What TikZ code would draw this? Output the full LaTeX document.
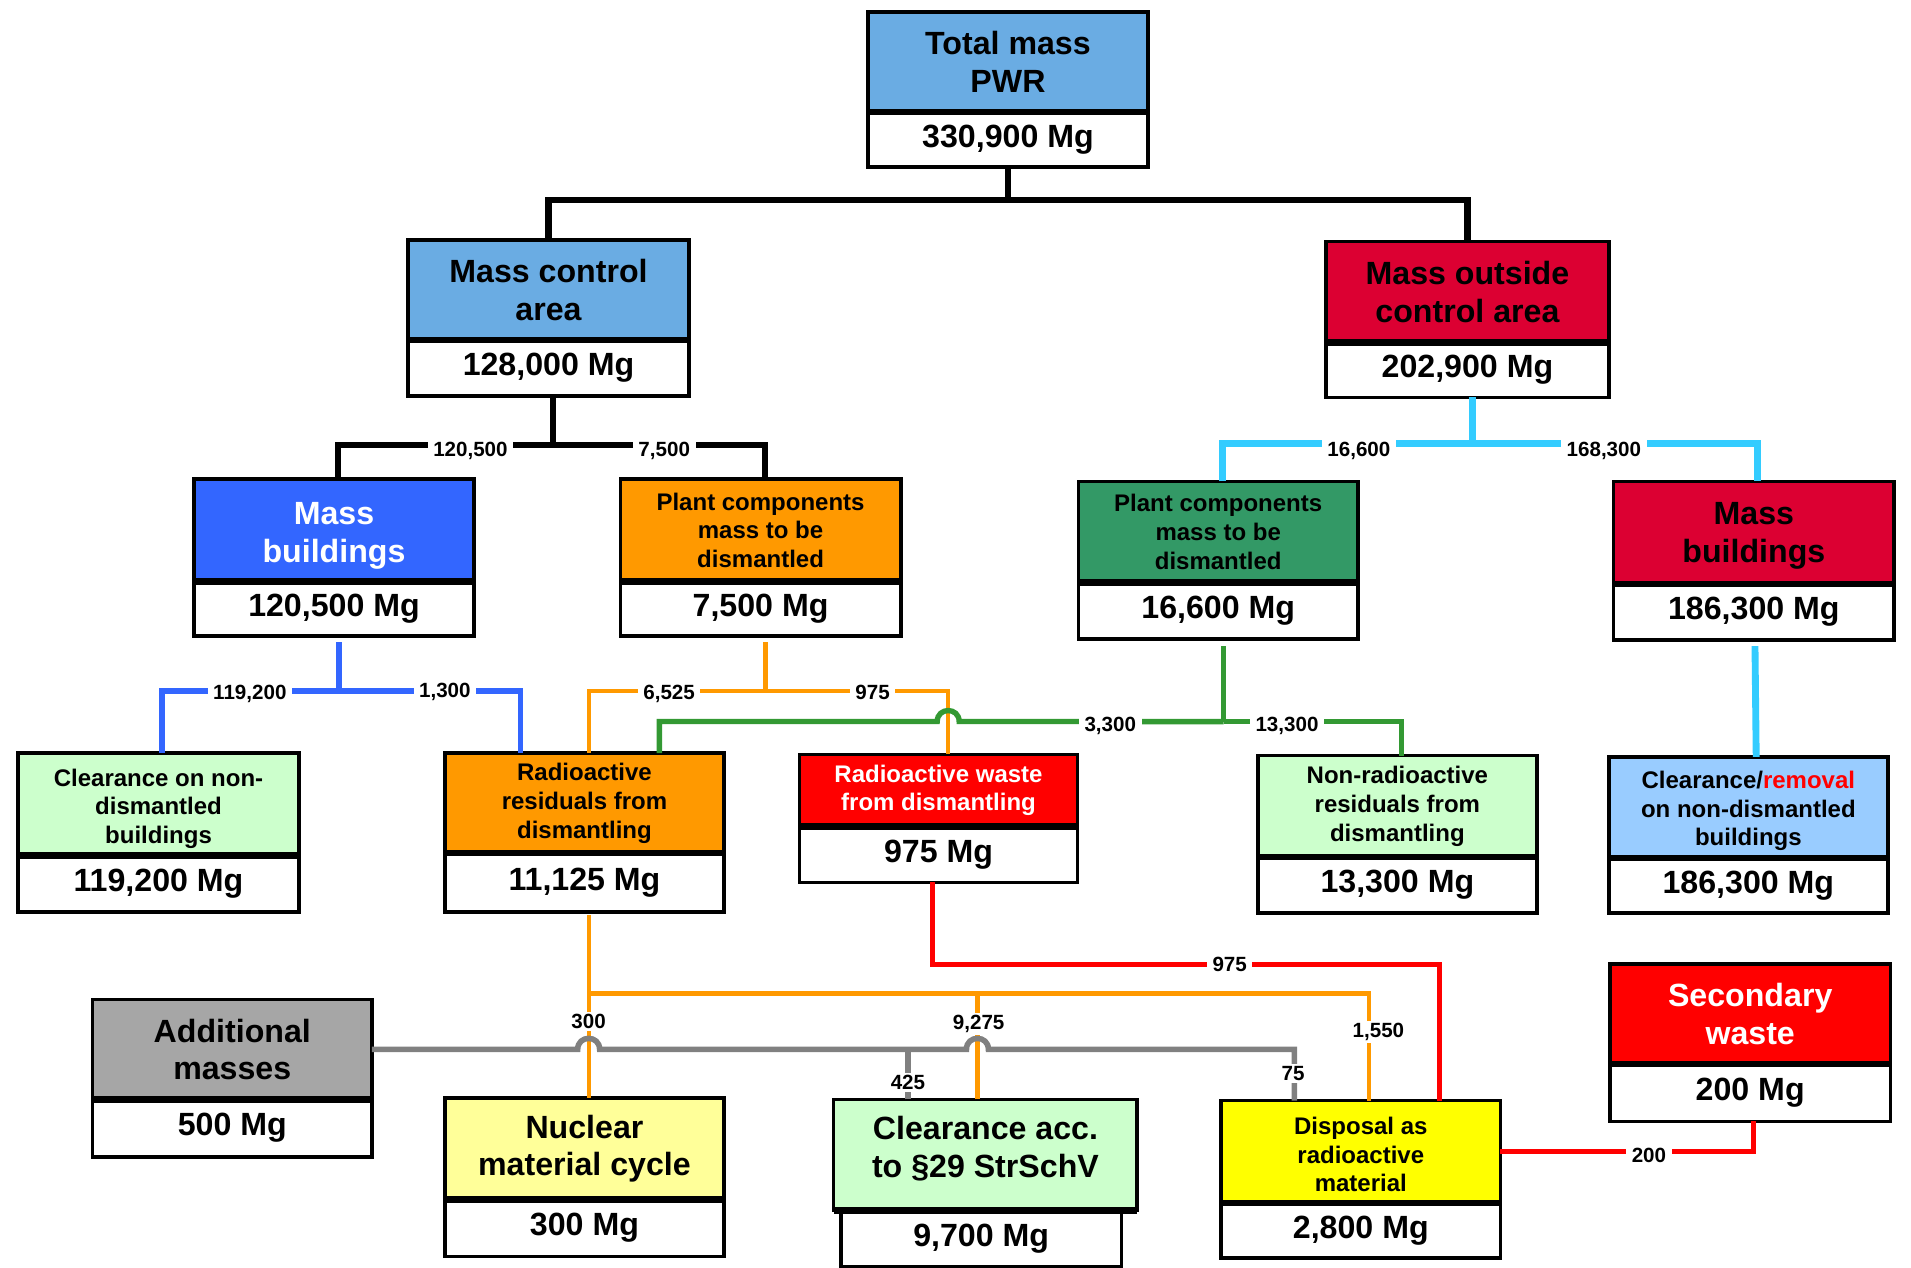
\documentclass[tikz,border=0pt]{standalone}
\usepackage{fontspec}
\setmainfont{Liberation Sans}
\usetikzlibrary{calc}

% box fills
\definecolor{cTot}{RGB}{106,172,227}
\definecolor{cCrim}{RGB}{220,0,50}
\definecolor{cBlue}{RGB}{51,102,255}
\definecolor{cOrange}{RGB}{255,153,0}
\definecolor{cGreenBox}{RGB}{51,153,102}
\definecolor{cPale}{RGB}{204,255,204}
\definecolor{cRed}{RGB}{255,0,0}
\definecolor{cSky}{RGB}{153,204,255}
\definecolor{cLYel}{RGB}{255,255,153}
\definecolor{cYel}{RGB}{255,255,0}
\definecolor{cGrayBox}{RGB}{166,166,166}
% connector colours
\definecolor{cCyan}{RGB}{51,204,255}
\definecolor{cGreenL}{RGB}{51,153,51}
\definecolor{cGrayL}{RGB}{128,128,128}

% invisible strut that pushes a heading's text block downwards
\newcommand{\topstrut}[1]{\rule{0pt}{#1}}

\begin{document}
\begin{tikzpicture}[x=0.01cm,y=-0.01cm,
  box/.style={draw=black, line width=0.85pt, rectangle, inner sep=0pt, outer sep=0pt,
              align=center, anchor=north west, text=black},
  big/.style={font=\fontsize{7.5}{8.8}\selectfont\bfseries},
  small/.style={font=\fontsize{5.6}{6.7}\selectfont\bfseries},
  val/.style={box, fill=white, big},
  lbl/.style={fill=white, inner xsep=1.3pt, inner ysep=0.5pt, outer sep=0pt,
              font=\fontsize{4.8}{5}\selectfont\bfseries},
  divider/.style={draw=black, line width=1.5pt},
  mainl/.style={draw=black, line width=1.5pt},
  blkl/.style={draw=black, line width=1.4pt},
  cyl/.style={draw=cCyan, line width=1.6pt},
  bll/.style={draw=cBlue, line width=1.35pt},
  orl/.style={draw=cOrange, line width=1.0pt},
  grl/.style={draw=cGreenL, line width=1.25pt},
  rdl/.style={draw=cRed, line width=1.15pt},
  gyl/.style={draw=cGrayL, line width=1.3pt}
]
\fill[white] (0,0) rectangle (1568,1040.4);
\useasboundingbox (0,0) rectangle (1568,1040.4);

% ---------- boxes: heading part and mass part ----------
\node[box, big, fill=cTot, minimum width=2.30cm, minimum height=0.82cm] (tot) at (712,10) {Total mass\\PWR};
\node[val, minimum width=2.30cm, minimum height=0.45cm] (totv) at (tot.south west) {330,900 Mg};

\node[box, big, fill=cTot, minimum width=2.30cm, minimum height=0.82cm] (mca) at (335,197) {Mass control\\area};
\node[val, minimum width=2.30cm, minimum height=0.46cm] (mcav) at (mca.south west) {128,000 Mg};

\node[box, big, fill=cCrim, minimum width=2.32cm, minimum height=0.83cm] (moca) at (1088,198) {Mass outside\\control area};
\node[val, minimum width=2.32cm, minimum height=0.45cm] (mocav) at (moca.south west) {202,900 Mg};

\node[box, big, fill=cBlue, text=white, minimum width=2.30cm, minimum height=0.84cm] (mbA) at (159,393) {\topstrut{7.7pt}Mass\\buildings};
\node[val, minimum width=2.30cm, minimum height=0.45cm] (mbAv) at (mbA.south west) {120,500 Mg};

\node[box, small, fill=cOrange, minimum width=2.30cm, minimum height=0.84cm] (pcA) at (509,393) {Plant components\\mass to be\\dismantled};
\node[val, minimum width=2.30cm, minimum height=0.45cm] (pcAv) at (pcA.south west) {7,500 Mg};

\node[box, small, fill=cGreenBox, minimum width=2.29cm, minimum height=0.83cm] (pcB) at (885,395) {Plant components\\mass to be\\dismantled};
\node[val, minimum width=2.29cm, minimum height=0.46cm] (pcBv) at (pcB.south west) {16,600 Mg};

\node[box, big, fill=cCrim, minimum width=2.30cm, minimum height=0.84cm] (mbB) at (1324,395) {\topstrut{6.5pt}Mass\\buildings};
\node[val, minimum width=2.30cm, minimum height=0.46cm] (mbBv) at (mbB.south west) {186,300 Mg};

\node[box, small, fill=cPale, minimum width=2.30cm, minimum height=0.84cm] (clA) at (15,618) {\topstrut{6.0pt}Clearance on non-\\dismantled\\buildings};
\node[val, minimum width=2.30cm, minimum height=0.46cm] (clAv) at (clA.south west) {119,200 Mg};

\node[box, small, fill=cOrange, minimum width=2.29cm, minimum height=0.82cm] (rr) at (365,618) {Radioactive\\residuals from\\dismantling};
\node[val, minimum width=2.29cm, minimum height=0.48cm] (rrv) at (rr.south west) {11,125 Mg};

\node[box, small, fill=cRed, text=white, minimum width=2.28cm, minimum height=0.59cm] (rw) at (656,619) {Radioactive waste\\from dismantling};
\node[val, minimum width=2.28cm, minimum height=0.46cm] (rwv) at (rw.south west) {975 Mg};

\node[box, small, fill=cPale, minimum width=2.29cm, minimum height=0.83cm] (nr) at (1032,620) {Non-radioactive\\residuals from\\dismantling};
\node[val, minimum width=2.29cm, minimum height=0.46cm] (nrv) at (nr.south west) {13,300 Mg};

\node[box, small, fill=cSky, minimum width=2.29cm, minimum height=0.83cm] (clB) at (1320,621) {\topstrut{5.7pt}Clearance/\textcolor{cRed}{removal}\\on non-dismantled\\buildings};
\node[val, minimum width=2.29cm, minimum height=0.45cm] (clBv) at (clB.south west) {186,300 Mg};

\node[box, big, fill=cGrayBox, minimum width=2.29cm, minimum height=0.82cm] (add) at (76,820) {Additional\\masses};
\node[val, minimum width=2.29cm, minimum height=0.47cm] (addv) at (add.south west) {500 Mg};

\node[box, big, fill=cLYel, minimum width=2.29cm, minimum height=0.83cm] (nuc) at (365,901) {Nuclear\\material cycle};
\node[val, minimum width=2.29cm, minimum height=0.47cm] (nucv) at (nuc.south west) {300 Mg};

\node[box, big, fill=cPale, text depth=3.6pt, minimum width=2.49cm, minimum height=0.91cm] (cs) at (684,902) {Clearance acc.\\to §29 StrSchV};
\node[val, minimum width=2.30cm, minimum height=0.46cm] (csv) at (690,993) {9,700 Mg};

\node[box, small, fill=cYel, minimum width=2.29cm, minimum height=0.84cm] (disp) at (1002,903) {\topstrut{5.4pt}Disposal as\\radioactive\\material};
\node[val, minimum width=2.29cm, minimum height=0.45cm] (dispv) at (disp.south west) {2,800 Mg};

\node[box, big, fill=cRed, text=white, minimum width=2.30cm, minimum height=0.82cm] (sec) at (1321,791) {Secondary\\waste};
\node[val, minimum width=2.30cm, minimum height=0.47cm] (secv) at (sec.south west) {200 Mg};

% heavier rule between heading and mass
\foreach \b in {tot,mca,moca,mbA,pcA,pcB,mbB,clA,rr,rw,nr,clB,add,nuc,disp,sec}
  \draw[divider] (\b.south west) -- (\b.south east);
\draw[divider] (cs.south west) -- (cs.south east);

% ---------- connectors ----------
% total mass split
\draw[mainl] (totv.south) -- ++(0,27) coordinate (jTop);
\draw[mainl] (mca.north) |- (jTop) -| (moca.north);

% control area split
\draw[blkl] ($(mcav.south west)+(119,0)$) -- ++(0,40) coordinate (jCA);
\draw[blkl] ($(mbA.north west)+(118,0)$) |- (jCA) -| ($(pcA.north west)+(119,0)$);

% outside control area split
\draw[cyl] ($(mocav.south west)+(120,0)$) -- ++(0,38) coordinate (jOC);
\draw[cyl] ($(pcB.north west)+(118,0)$) |- (jOC) -| ($(mbB.north west)+(118,0)$);
\draw[cyl] ($(mbBv.south west)+(116,5)$) -- ($(clB.north west)+(121,0)$);

% buildings split
\draw[bll] ($(mbAv.south west)+(119,5)$) -- ++(0,40) coordinate (jMB);
\draw[bll] ($(clA.north west)+(118,0)$) |- (jMB) -| ($(rr.north west)+(62,0)$);

% plant components (control area) split
\draw[orl] ($(pcAv.south west)+(119,5)$) -- ++(0,40) coordinate (jPA);
\draw[orl] ($(rr.north west)+(118,0)$) |- (jPA) -| ($(rw.north west)+(122,0)$);

% plant components (outside) split, hopping over the orange line
\draw[grl] ($(pcBv.south west)+(119,6)$) -- ++(0,62) coordinate (jPB);
\draw[grl] (jPB) -- (787,592) .. controls (787,580) and (769,580) .. (769,592)
           -| ($(rr.north west)+(176,0)$);
\draw[grl] (jPB) -| ($(nr.north west)+(118,0)$);

% residuals to their destinations
\draw[orl] ($(rrv.south west)+(118,3)$) -- ($(nuc.north west)+(118,0)$);
\draw[orl] ($(rrv.south west)+(118,3)$) -- ++(0,64) coordinate (jRR) -| ($(disp.north west)+(121,0)$);
\draw[orl] ($(cs.north west)+(118,0)$) |- (jRR);

% radioactive waste to disposal
\draw[rdl] ($(rwv.south west)+(109,0)$) -- ++(0,67) -| ($(disp.north west)+(179,0)$);

% secondary waste to disposal
\draw[rdl] ($(secv.south west)+(118,0)$) |- (disp.east);

% additional masses, hopping over two orange lines
\draw[gyl] (add.east) -- (474,861) .. controls (474,849) and (492,849) .. (492,861)
           -- (793,861) .. controls (793,849) and (811,849) .. (811,861)
           -| ($(disp.north west)+(60,0)$);
\draw[gyl] ($(cs.north west)+(61,0)$) -- ++(0,-41);

% ---------- flow labels ----------
\node[lbl] (q1) at (386,370) {120,500};
\node[lbl] (q2) at (545,370) {7,500};
\node[lbl] (q3) at (1115,370) {16,600};
\node[lbl] (q4) at (1316,370) {168,300};
\node[lbl] (q5) at (205,569) {119,200};
\node[lbl] (q6) at (365,568) {1,300};
\node[lbl] (q7) at (549,569) {6,525};
\node[lbl] (q8) at (716,568) {975};
\node[lbl] (q9) at (911,596) {3,300};
\node[lbl] (q10) at (1056,596) {13,300};
\node[lbl] (q11) at (1009,791) {975};
\node[lbl] (q12) at (483,838) {300};
\node[lbl] (q13) at (803,840) {9,275};
\node[lbl] (q14) at (1131,847) {1,550};
\node[lbl] (q15) at (745,888) {425};
\node[lbl] (q16) at (1061,881) {75};
\node[lbl] (q17) at (1353,948) {200};
\end{tikzpicture}
\end{document}
